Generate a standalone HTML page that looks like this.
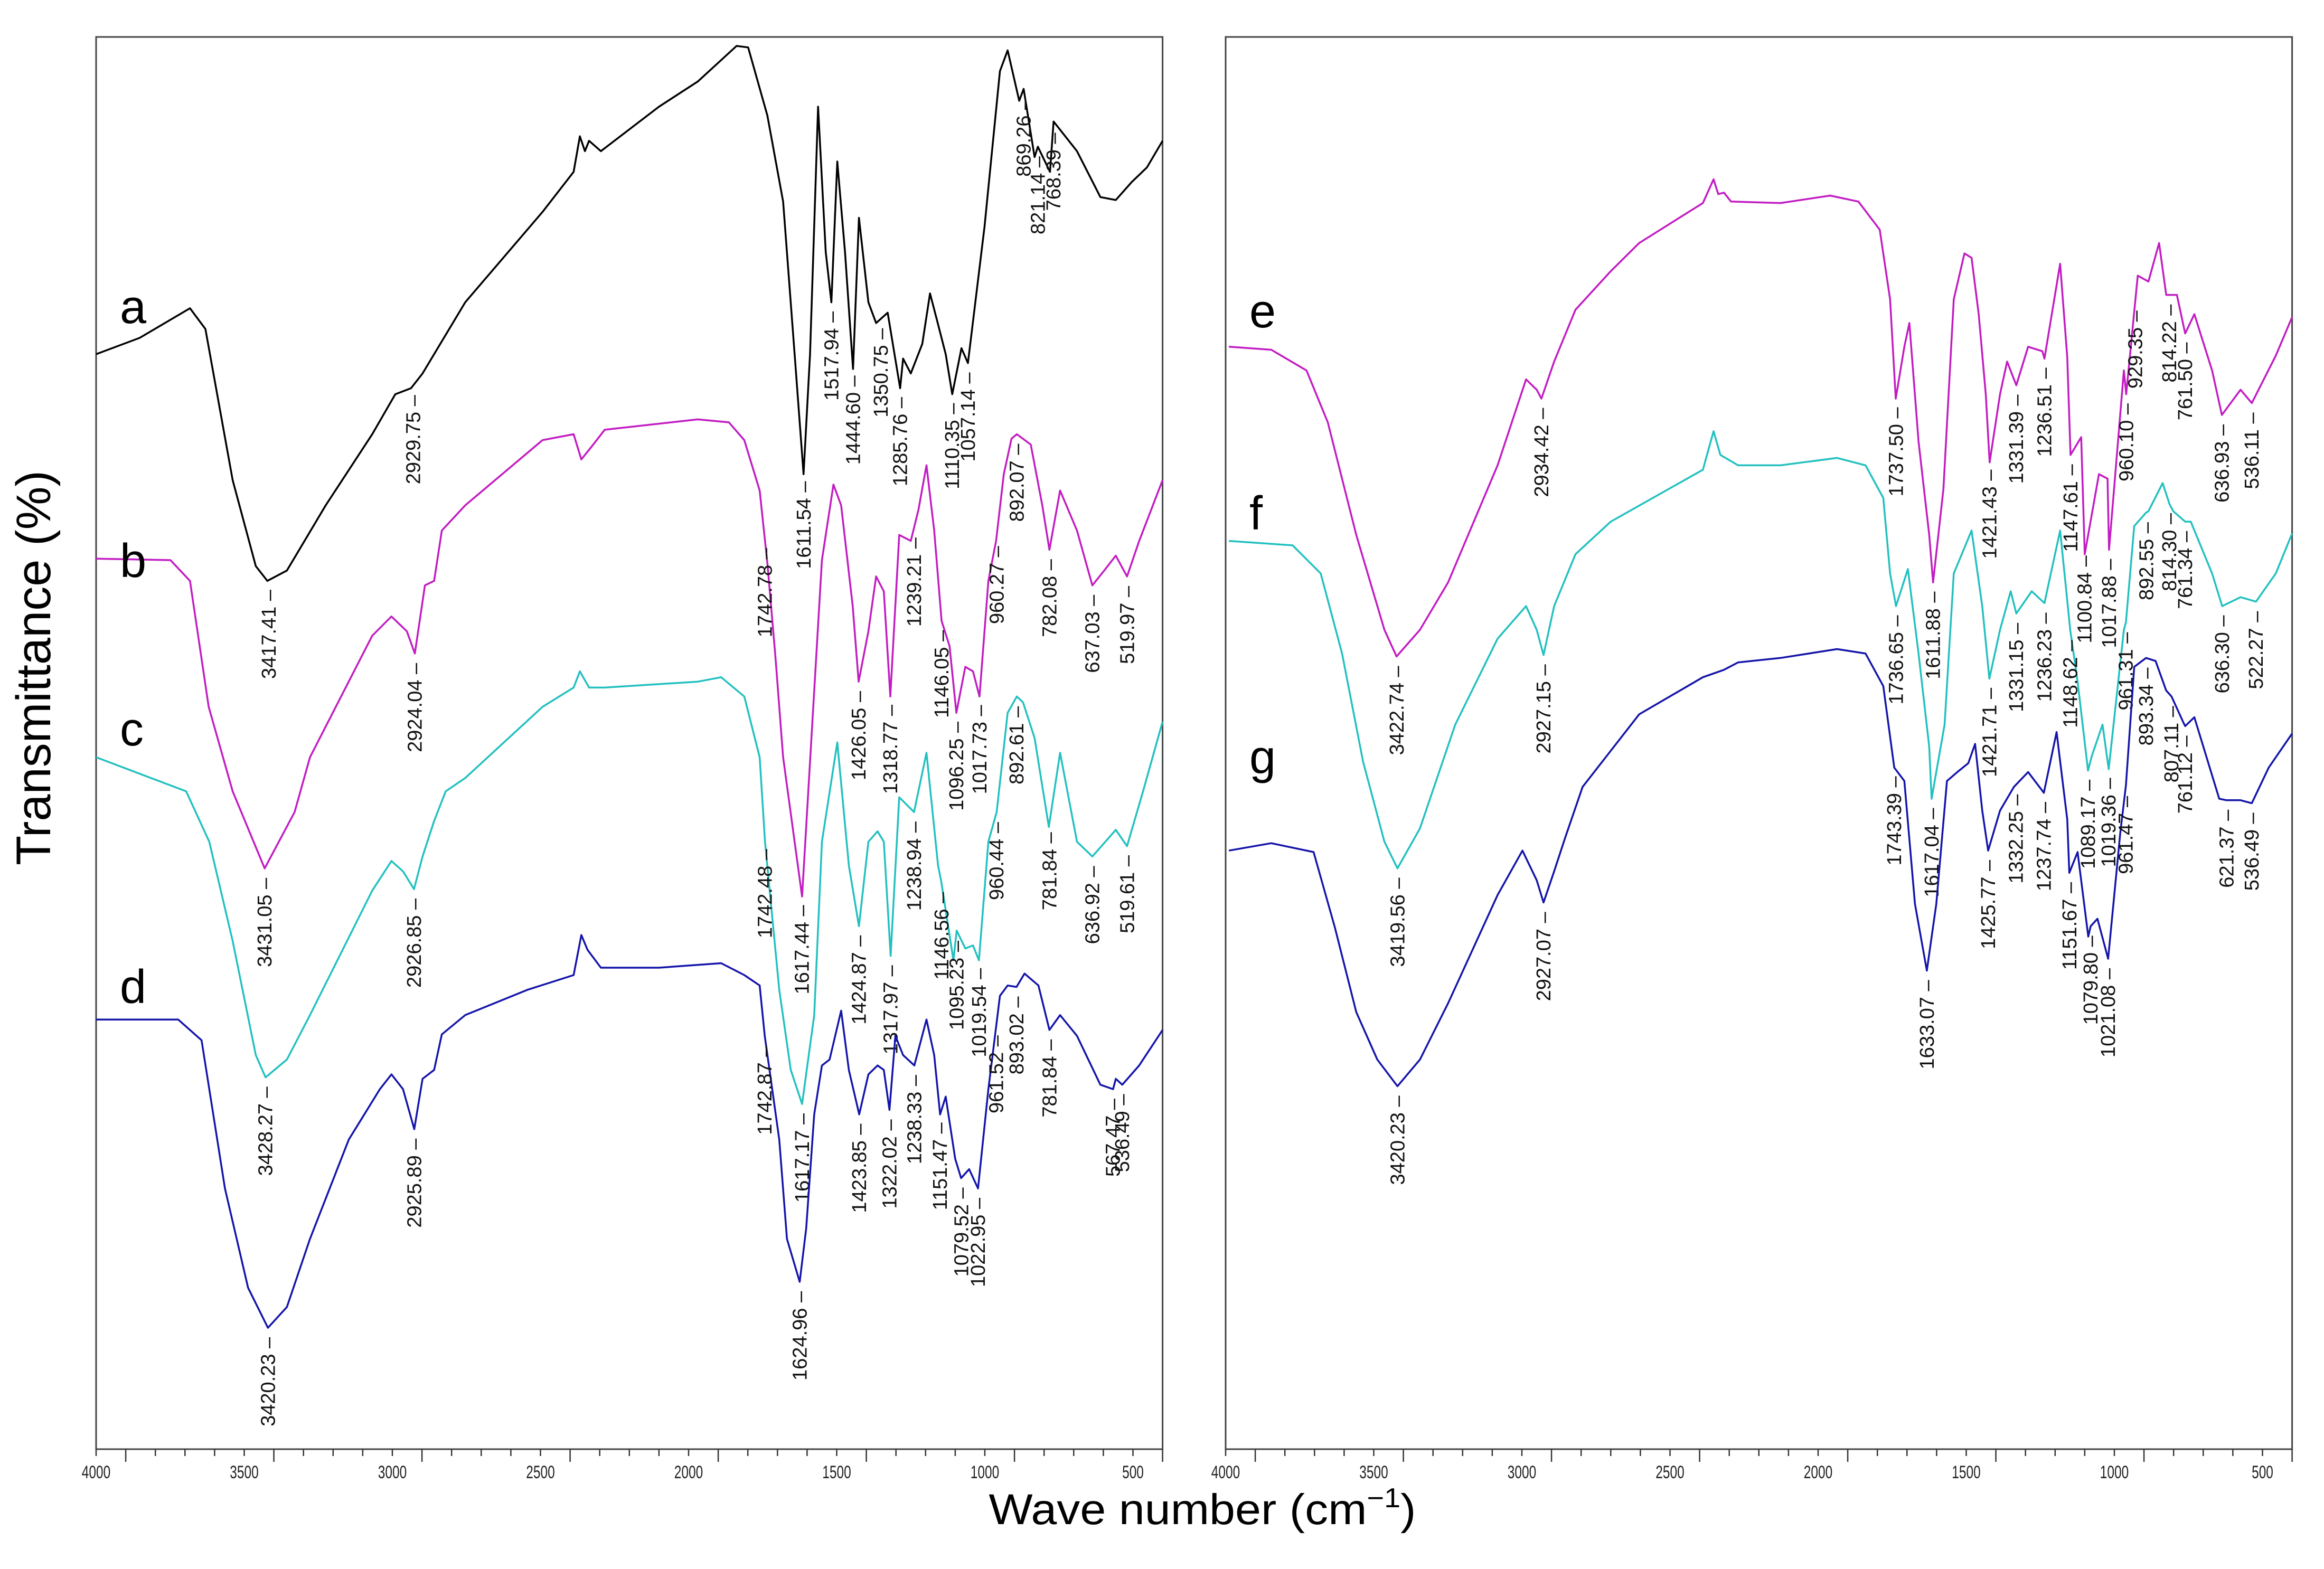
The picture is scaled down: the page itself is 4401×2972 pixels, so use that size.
<!DOCTYPE html>
<html><head><meta charset="utf-8"><title>FTIR spectra</title>
<style>html,body{margin:0;padding:0;background:#fff}svg{display:block}</style></head>
<body>
<svg id="chart" xmlns="http://www.w3.org/2000/svg" width="4401" height="2972" viewBox="0 0 4401 2972" font-family="Liberation Sans, Arial, sans-serif">
<rect width="4401" height="2972" fill="#fff"/>
<g id="left-panel"></g>
<g id="right-panel"></g>
<text transform="translate(95,1265) rotate(-90)" text-anchor="middle" font-size="92" fill="#000">Transmittance (%)</text>
<text x="2277" y="2887" text-anchor="middle" font-size="82" fill="#000" textLength="809" lengthAdjust="spacingAndGlyphs">Wave number (cm<tspan font-size="52" dy="-32">−1</tspan><tspan dy="32">)</tspan></text>
</svg>
<script>
// ---- data (wavenumber cm-1 / transmittance arbitrary %) ----
const tickValues = [4000,3500,3000,2500,2000,1500,1000,500];
const tickLabels = ["4000","3500","3000","2500","2000","1500","1000","500"];

const aWn = [4000,3853,3683,3631,3539,3461,3422,3356,3225,3068,2990,2937,2898,2754,2493,2388,2367,2350,2336,2296,2100,1969,1838,1799,1734,1681,1642,1612,1590,1563,1537,1518,1498,1472,1445,1425,1393,1367,1328,1286,1276,1250,1211,1185,1159,1132,1110,1079,1057,1001,949,923,884,869,832,821,780,768,689,610,558,505,453,400];
const aT  = [76.1,77.2,79.2,77.8,67.6,61.8,60.8,61.5,65.9,70.7,73.4,73.8,74.8,79.6,85.7,88.4,90.8,89.8,90.5,89.8,92.8,94.5,96.9,96.8,92.2,86.4,76.1,68.0,76.1,92.8,83.0,79.6,89.1,83.0,75.1,85.3,79.6,78.2,78.9,73.8,75.8,74.8,76.8,80.2,78.2,76.1,73.4,76.5,75.5,84.7,95.2,96.6,93.2,94.0,89.4,90.1,88.4,91.8,89.8,86.7,86.5,87.7,88.7,90.5];

const bWn = [4000,3749,3683,3620,3539,3431,3330,3278,3068,3003,2951,2924,2890,2859,2833,2754,2493,2388,2362,2322,2283,1969,1864,1812,1760,1734,1707,1681,1617,1550,1511,1485,1446,1426,1393,1367,1341,1319,1289,1250,1224,1197,1171,1146,1119,1096,1066,1040,1018,988,962,936,910,892,845,806,782,746,689,637,597,558,520,479,400];
const bT  = [62.3,62.2,60.8,52.3,46.6,41.4,45.2,48.9,57.1,58.4,57.4,55.9,60.5,60.8,64.2,65.9,70.3,70.7,69.0,70.0,71.0,71.7,71.5,70.3,66.9,62.0,55.7,48.9,39.5,62.2,67.3,65.9,59.1,54.0,57.4,61.1,60.1,53.0,63.9,63.5,65.6,68.6,64.2,58.1,56.4,51.9,55.0,54.7,53.0,60.8,63.5,68.0,70.4,70.7,70.0,65.9,62.9,66.9,64.2,60.5,61.5,62.5,61.1,63.5,67.6];

const cWn = [4000,3696,3618,3539,3461,3428,3356,3278,3068,3003,2964,2927,2898,2859,2820,2754,2493,2388,2367,2336,2283,1969,1890,1812,1760,1742,1694,1655,1617,1576,1550,1498,1459,1425,1393,1362,1341,1318,1289,1239,1197,1158,1147,1106,1095,1066,1040,1020,988,960,923,892,871,832,784,746,689,637,558,520,466,400];
const cT  = [48.9,46.6,43.2,36.5,28.8,27.3,28.5,31.5,39.9,41.9,41.2,40.0,42.2,44.6,46.6,47.5,52.3,53.6,54.7,53.6,53.6,54.0,54.3,53.0,48.9,43.2,33.2,27.8,25.5,31.5,43.2,49.9,41.6,37.5,43.2,43.9,43.2,35.5,46.2,45.2,49.2,41.6,40.5,35.2,37.2,36.0,36.2,35.2,43.2,45.2,51.9,53.0,52.6,50.2,44.2,49.2,43.2,42.2,44.0,42.9,46.6,51.3];

const dWn = [4000,3723,3644,3565,3487,3420,3356,3278,3147,3042,3003,2964,2926,2898,2859,2833,2754,2545,2388,2362,2341,2296,2100,1890,1812,1760,1743,1694,1668,1625,1603,1576,1550,1524,1485,1459,1424,1393,1362,1341,1322,1302,1276,1238,1197,1171,1151,1132,1100,1080,1053,1023,988,949,923,893,866,819,782,746,689,610,567,558,536,479,400];
const dT  = [31.2,31.2,29.8,19.8,13.1,10.4,11.8,16.4,23.1,26.5,27.5,26.5,23.8,27.2,27.8,30.2,31.5,33.2,34.2,36.9,35.9,34.7,34.7,35.0,34.2,33.5,30.1,23.1,16.4,13.5,17.1,24.8,28.1,28.5,31.8,27.8,24.8,27.5,28.1,27.8,25.1,30.1,28.8,28.1,31.2,28.8,24.8,26.0,21.8,20.5,21.1,19.8,26.5,32.8,33.5,33.4,34.3,33.5,30.5,31.5,30.1,26.8,26.5,27.2,26.8,28.1,30.5];

const eWn = [3989,3846,3727,3655,3559,3464,3423,3344,3249,3082,2986,2950,2934,2891,2819,2700,2604,2389,2353,2337,2318,2294,2127,1959,1864,1792,1757,1738,1709,1692,1661,1625,1612,1577,1542,1506,1482,1458,1434,1421,1386,1362,1331,1291,1243,1236,1183,1159,1148,1112,1100,1052,1023,1018,968,960,921,885,849,825,814,789,761,730,670,637,574,536,455,400];
const eT  = [76.6,76.4,75.0,71.5,63.9,57.5,55.7,57.5,60.7,68.6,74.4,73.7,73.1,75.6,79.1,81.7,83.6,86.3,87.9,86.9,87.0,86.4,86.3,86.8,86.4,84.5,79.8,73.1,76.6,78.2,70.2,63.9,60.7,67.0,79.8,82.9,82.6,78.8,73.4,68.8,73.4,75.6,74.0,76.6,76.3,75.8,82.2,75.9,69.3,70.5,62.6,68.0,67.7,62.9,75.0,73.4,81.4,81.0,83.6,80.1,80.1,80.1,77.5,78.8,75.0,72.0,73.7,72.8,76.0,78.6];

const fWn = [3989,3774,3679,3607,3536,3464,3420,3344,3225,3082,2986,2950,2927,2891,2819,2700,2389,2353,2330,2270,2127,1936,1840,1780,1757,1737,1697,1661,1625,1617,1573,1542,1482,1446,1422,1386,1350,1331,1279,1236,1183,1149,1124,1089,1076,1040,1019,968,961,933,893,885,837,814,801,761,742,670,636,574,522,455,400];
const fT  = [63.5,63.2,61.3,55.9,48.6,43.2,41.4,44.1,51.1,56.9,59.1,57.5,55.8,59.1,62.6,64.8,68.3,70.9,69.3,68.6,68.6,69.1,68.6,66.4,61.3,59.1,61.6,55.9,49.6,46.1,51.1,61.3,64.2,59.1,54.2,57.5,60.1,58.6,60.1,59.3,64.2,57.5,54.0,48.0,49.0,51.1,48.1,57.5,58.0,64.5,65.4,65.5,67.4,66.0,65.5,64.8,64.8,61.3,59.1,59.7,59.4,61.3,64.0];

const gWn = [3989,3846,3703,3631,3559,3488,3420,3344,3249,3082,2998,2950,2927,2891,2855,2795,2604,2389,2318,2270,2127,1936,1840,1780,1743,1709,1673,1633,1601,1565,1530,1493,1470,1446,1426,1386,1339,1291,1238,1195,1159,1152,1124,1088,1080,1057,1021,980,961,933,893,861,825,807,766,761,730,646,621,574,536,479,400];
const gT  = [42.6,43.1,42.5,37.4,31.7,28.5,26.7,28.5,32.3,39.6,42.6,40.6,39.1,41.2,43.4,46.9,51.8,54.3,54.8,55.3,55.6,56.2,55.9,53.7,48.2,47.3,39.0,34.5,39.0,47.3,47.9,48.5,49.8,45.3,42.6,45.3,46.9,47.9,46.5,50.6,44.7,41.1,42.5,36.8,37.5,38.0,35.3,43.8,47.0,55.0,55.6,55.4,53.4,53.0,51.2,51.0,51.6,46.1,46.0,46.0,45.8,48.2,50.5];

const aLabels = ["3417.41","2929.75","1611.54","1517.94","1444.60","1350.75","1285.76","1110.35","1057.14","869.26","821.14","768.39"];
const bLabels = ["3431.05","2924.04","1742.78","1617.44","1426.05","1318.77","1239.21","1146.05","1096.25","1017.73","960.27","892.07","782.08","637.03","519.97"];
const cLabels = ["3428.27","2926.85","1742.48","1617.17","1424.87","1317.97","1238.94","1146.56","1095.23","1019.54","960.44","892.61","781.84","636.92","519.61"];
const dLabels = ["3420.23","2925.89","1742.87","1624.96","1423.85","1322.02","1238.33","1151.47","1079.52","1022.95","961.52","893.02","781.84","567.47","536.49"];
const eLabels = ["3422.74","2934.42","1737.50","1611.88","1421.43","1331.39","1236.51","1147.61","1100.84","1017.88","960.10","929.35","814.22","761.50","636.93","536.11"];
const fLabels = ["3419.56","2927.15","1736.65","1617.04","1421.71","1331.15","1236.23","1148.62","1089.17","1019.36","961.31","892.55","814.30","761.34","636.30","522.27"];
const gLabels = ["3420.23","2927.07","1743.39","1633.07","1425.77","1332.25","1237.74","1151.67","1079.80","1021.08","961.47","893.34","807.11","761.12","621.37","536.49"];

// ---- layout ----
const NS = "http://www.w3.org/2000/svg";
const PXU = 0.561, TOP = 70, BOT = 2745;
function yScale(t){ return (100 - t) * 28.07; }
function mk(tag, attrs, parent){ const e = document.createElementNS(NS, tag); for (const k in attrs) e.setAttribute(k, attrs[k]); parent.appendChild(e); return e; }
function interp(wn, ws, ts){
  for (let i = 0; i < ws.length - 1; i++){
    if (wn <= ws[i] && wn >= ws[i+1]){ const f = (ws[i]-wn)/(ws[i]-ws[i+1]); return ts[i] + f*(ts[i+1]-ts[i]); }
  }
  return ts[ts.length-1];
}

function drawPanel(gid, x0, series){
  const g = document.getElementById(gid);
  const xScale = wn => x0 + (4000 - wn) * PXU;
  const xr = xScale(400);
  const frame = mk("rect", {x:x0, y:TOP, width:xr-x0, height:BOT-TOP, fill:"none", stroke:"#444", "stroke-width":3}, g);
  
  
  for (let w = 4000; w >= 400; w -= 100){
    const x = xScale(w);
    const long = ((4000 - w) % 500) === 100;
    const t = mk("line", {x1:x, x2:x, y1:BOT, y2:BOT + (long ? 24 : 13), stroke:"#333", "stroke-width":2.5}, g);
    
    
  }
  tickValues.forEach((v, i) => {
    const t = mk("text", {x:0, y:0, "text-anchor":"middle", "font-size":34, fill:"#222", transform:`translate(${xScale(v)},2800) scale(0.72,1)`}, g);
    t.textContent = tickLabels[i];
    
    
  });
  series.forEach(s => {
    const d = s.wn.map((w, i) => (i ? "L" : "M") + xScale(w).toFixed(1) + "," + yScale(s.t[i]).toFixed(1)).join("");
    const p = mk("path", {d:d, fill:"none", stroke:s.color, "stroke-width":3.5, "stroke-linejoin":"round"}, g);
    
    
    s.labels.forEach(lb => {
      const w = parseFloat(lb);
      const x = xScale(w) + 13;
      const y = yScale(interp(w, s.wn, s.t)) + 18;
      const tx = mk("text", {transform:`translate(${x.toFixed(1)},${y.toFixed(1)}) rotate(-90)`, "text-anchor":"end", "font-size":38, fill:"#111"}, g);
      tx.textContent = lb + " –";
      
      
    });
    const L = mk("text", {x:x0 + 45, y:s.ly, "font-size":90, fill:"#000"}, g);
    L.textContent = s.id;
    
    
  });
}

drawPanel("left-panel", 182, [
  {id:"a", wn:aWn, t:aT, color:"#000000", labels:aLabels, ly:612},
  {id:"b", wn:bWn, t:bT, color:"#c21cc2", labels:bLabels, ly:1093},
  {id:"c", wn:cWn, t:cT, color:"#23c0c0", labels:cLabels, ly:1412},
  {id:"d", wn:dWn, t:dT, color:"#1414aa", labels:dLabels, ly:1900}
]);
drawPanel("right-panel", 2321, [
  {id:"e", wn:eWn, t:eT, color:"#c21cc2", labels:eLabels, ly:620},
  {id:"f", wn:fWn, t:fT, color:"#23c0c0", labels:fLabels, ly:1003},
  {id:"g", wn:gWn, t:gT, color:"#1414aa", labels:gLabels, ly:1465}
]);
</script>
</body></html>
